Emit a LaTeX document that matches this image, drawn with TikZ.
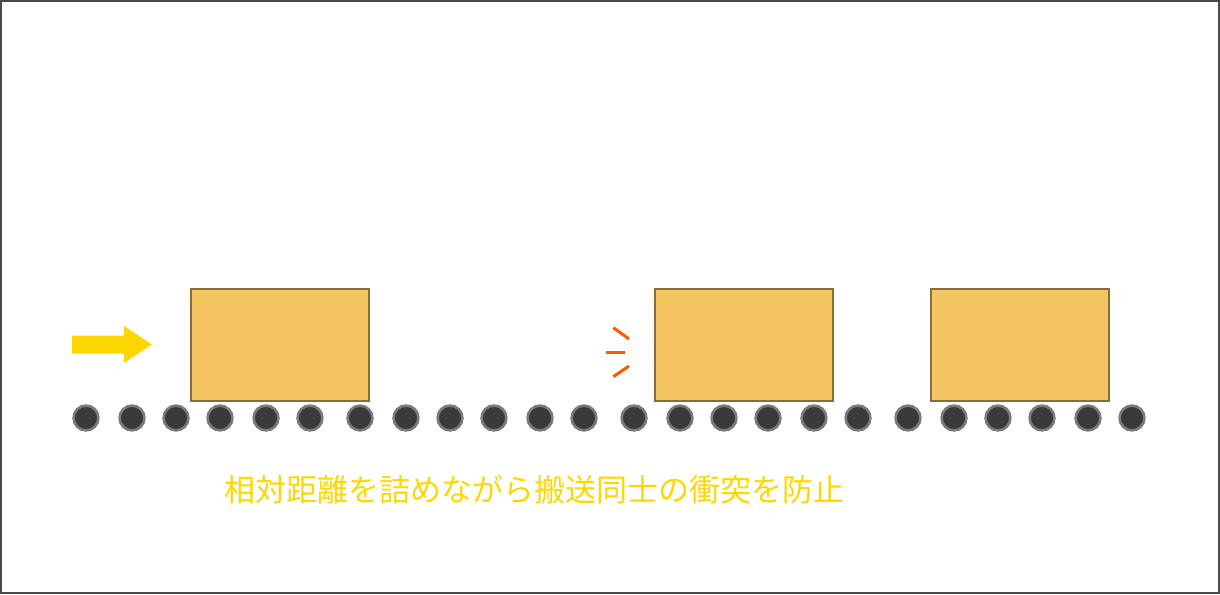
\documentclass[tikz,border=0pt]{standalone}
\usepackage{fontspec}
\newfontfamily\cjk{Noto Sans CJK JP}
\definecolor{frame}{HTML}{4A4A4A}
\definecolor{boxfill}{HTML}{F3C563}
\definecolor{boxline}{HTML}{8B6B3A}
\definecolor{rollfill}{HTML}{3A3A3A}
\definecolor{rollring}{HTML}{7A7A7A}
\definecolor{gold}{HTML}{FFD700}
\definecolor{bump}{HTML}{FF5A00}
\tikzset{
  cargo/.style={draw=boxline, fill=boxfill, line width=2pt, minimum width=178pt, minimum height=112pt, inner sep=0pt},
  roller/.style={circle, draw=rollring, fill=rollfill, line width=2.6pt, minimum size=24.8pt, inner sep=0pt},
  impact/.style={draw=bump, line width=3pt},
  caption/.style={text=gold, font=\cjk\fontsize{31pt}{36pt}\selectfont, inner sep=0pt}
}
\begin{document}
\begin{tikzpicture}[x=1pt,y=-1pt]
\useasboundingbox (0,0) rectangle (1220,594);
\draw[frame, line width=2pt] (1,1) rectangle (1219,593);
% rollers
\foreach \x [count=\i] in {86,132,176,220,266,310,360,406,450,494,540,584,634,680,724,768,814,858,908,954,998,1042,1088,1132}
  \node[roller] (r\i) at (\x,418) {};
% boxes
\node[cargo] (b1) at (280,345) {};
\node[cargo] (b2) at (744,345) {};
\node[cargo] (b3) at (1020,345) {};
% arrow
\fill[gold] (72,335.5) -- (124,335.5) -- (124,326) -- (152,344.5) -- (124,363) -- (124,353.5) -- (72,353.5) -- cycle;
% impact marks
\coordinate (m1a) at (613.3,327.7); \coordinate (m1b) at (629,339);
\coordinate (m2a) at (605.7,352); \coordinate (m2b) at (625.3,352);
\coordinate (m3a) at (613.3,376.7); \coordinate (m3b) at (629,366);
\draw[impact] (m1a) -- (m1b);
\draw[impact] (m2a) -- (m2b);
\draw[impact] (m3a) -- (m3b);
% caption
\node[caption] (cap) at (534.5,489.5) {相対距離を詰めながら搬送同士の衝突を防止};
\end{tikzpicture}
\end{document}
